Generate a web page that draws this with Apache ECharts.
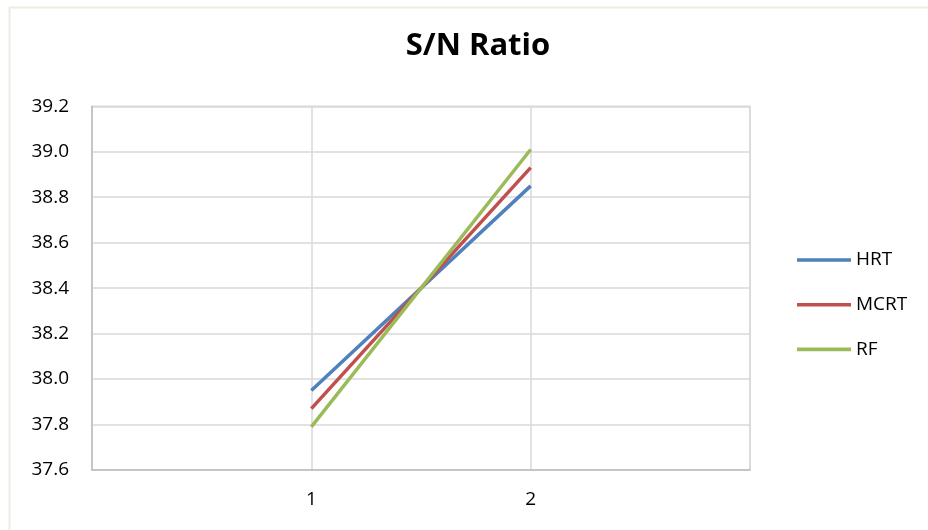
<!DOCTYPE html>
<html>
<head>
<meta charset="utf-8">
<script src="https://cdn.jsdelivr.net/npm/echarts@6/dist/echarts.min.js"></script>
<style>
html,body{margin:0;padding:0;background:#fff;}
#chart{width:928px;height:530px;}
</style>
</head>
<body>
<div id="chart"></div>
<script>
const titleText = 'S/N Ratio';
const xCategories = [1, 2];
const seriesNames = ['HRT', 'MCRT', 'RF'];
const hrtValues = [37.95, 38.85];
const mcrtValues = [37.87, 38.93];
const rfValues = [37.79, 39.01];
const yTicks = [37.6, 37.8, 38.0, 38.2, 38.4, 38.6, 38.8, 39.0, 39.2];
const colors = ['#4F81BD', '#C0504D', '#9BBB59'];

const allValues = [hrtValues, mcrtValues, rfValues];
const FONT = '"Open Sans", "Noto Sans", sans-serif';

const chart = echarts.init(document.getElementById('chart'));
chart.setOption({
  animation: false,
  backgroundColor: '#ffffff',
  title: {
    text: titleText,
    left: 473,
    top: 26,
    textAlign: 'center',
    textStyle: { fontFamily: FONT, fontWeight: 'bold', fontSize: 31, color: '#000' }
  },
  graphic: [
    { type: 'line', shape: { x1: 9, y1: 7.5, x2: 928, y2: 7.5 }, style: { stroke: '#EEEDE3', lineWidth: 2 } },
    { type: 'line', shape: { x1: 9.5, y1: 7, x2: 9.5, y2: 530 }, style: { stroke: '#EEEDE3', lineWidth: 2 } }
  ],
  legend: {
    orient: 'vertical',
    left: 792,
    top: 245,
    itemWidth: 54,
    itemHeight: 20,
    itemGap: 24.7,
    icon: 'path://M0,8.2 L54,8.2 L54,11.8 L0,11.8 Z',
    data: seriesNames,
    textStyle: { fontFamily: FONT, fontSize: 19, color: '#000', lineHeight: 20 }
  },
  grid: { left: 92, right: 178, top: 106.3, bottom: 60, containLabel: false,
          show: true, borderColor: '#D9D9D9', borderWidth: 1.5 },
  xAxis: {
    type: 'value',
    min: 0, max: 3, interval: 1,
    axisLine: { show: true, lineStyle: { color: '#BFBFBF', width: 1.5 } },
    axisTick: { show: false },
    splitLine: { show: true, lineStyle: { color: '#D9D9D9', width: 1.5 } },
    axisLabel: {
      margin: 20,
      fontFamily: FONT, fontSize: 19, color: '#000',
      formatter: function (v) { return xCategories.indexOf(v) >= 0 ? String(v) : ''; }
    }
  },
  yAxis: {
    type: 'value',
    min: yTicks[0], max: yTicks[yTicks.length - 1], interval: 0.2,
    axisLine: { show: true, lineStyle: { color: '#BFBFBF', width: 1.5 } },
    axisTick: { show: false },
    splitLine: { show: true, lineStyle: { color: '#D9D9D9', width: 1.5 } },
    axisLabel: {
      margin: 23,
      fontFamily: FONT, fontSize: 19, color: '#000',
      formatter: function (v) { return v.toFixed(1); }
    }
  },
  series: seriesNames.map(function (name, i) {
    return {
      name: name,
      type: 'line',
      symbol: 'none',
      z: 3 + i,
      data: xCategories.map(function (x, j) { return [x, allValues[i][j]]; }),
      lineStyle: { color: colors[i], width: 3.5 },
      itemStyle: { color: colors[i] }
    };
  })
});
</script>
</body>
</html>
